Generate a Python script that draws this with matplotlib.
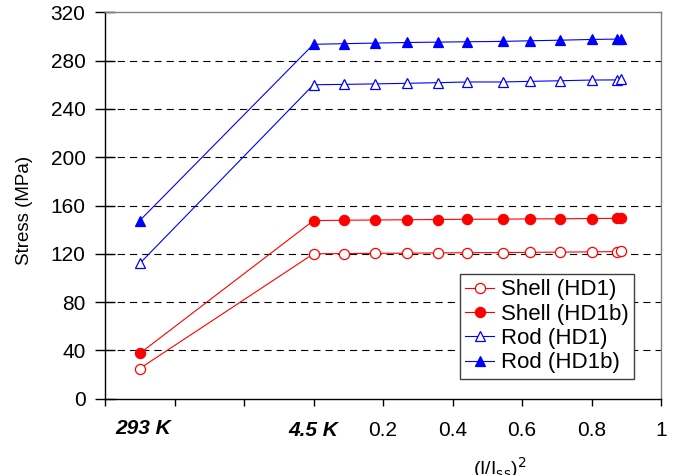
import matplotlib
matplotlib.use("Agg")
import matplotlib.pyplot as plt

plt.rcParams["font.family"] = ["Liberation Sans", "DejaVu Sans"]

# x positions: -0.5 stands for 293 K, 0 for 4.5 K, then (I/Iss)^2 values
x_vals = [-0.5, 0.0, 0.087, 0.176, 0.27, 0.357, 0.443, 0.544, 0.622, 0.708, 0.80, 0.872, 0.886]

shell_hd1 = [25, 120, 120.2, 120.4, 120.5, 120.7, 120.9, 121.0, 121.2, 121.4, 121.6, 121.8, 122.0]
shell_hd1b = [37.5, 147.5, 147.8, 148.0, 148.2, 148.4, 148.6, 148.7, 148.9, 149.0, 149.2, 149.4, 149.5]
rod_hd1 = [112, 260, 260.3, 260.7, 261.2, 261.7, 262.3, 262.3, 262.8, 263.3, 263.9, 264.0, 264.5]
rod_hd1b = [147.5, 293.5, 294.0, 294.5, 295.0, 295.3, 295.6, 295.9, 296.4, 296.9, 297.5, 297.8, 297.9]

y_ticks = [0, 40, 80, 120, 160, 200, 240, 280, 320]
x_ticks = [-0.6, -0.4, -0.2, 0.0, 0.2, 0.4, 0.6, 0.8, 1.0]
x_labels = ["", "", "", "4.5 K", "0.2", "0.4", "0.6", "0.8", "1"]

fig = plt.figure(figsize=(6.85, 4.75), dpi=100)
ax = fig.add_axes([105 / 685, 1 - 398.7 / 475, 556 / 685, 386.4 / 475])

# dashed grid lines between the top and bottom borders
for yv in y_ticks[1:-1]:
    ax.axhline(yv, color="black", lw=0.8, ls=(0, (6.5, 4.5)), zorder=1)

ms = 7.3
ax.plot(x_vals, shell_hd1, color="red", lw=0.8, marker="o", ms=ms,
        mfc="white", mec="red", mew=0.9, label="Shell (HD1)", zorder=3)
ax.plot(x_vals, shell_hd1b, color="red", lw=0.8, marker="o", ms=ms,
        mfc="red", mec="red", mew=0.9, label="Shell (HD1b)", zorder=3)
ax.plot(x_vals, rod_hd1, color="blue", lw=0.8, marker="^", ms=ms,
        mfc="white", mec="blue", mew=0.9, label="Rod (HD1)", zorder=3)
ax.plot(x_vals, rod_hd1b, color="blue", lw=0.8, marker="^", ms=ms,
        mfc="blue", mec="blue", mew=0.9, label="Rod (HD1b)", zorder=3)

ax.set_xlim(-0.6, 1.0)
ax.set_ylim(0, 320)
ax.set_yticks(y_ticks)
ax.set_xticks(x_ticks)
ax.set_xticklabels(x_labels)
ax.tick_params(axis="y", direction="inout", length=14, width=1, labelsize=15, pad=7)
ax.tick_params(axis="x", direction="out", length=5, width=1, labelsize=15, pad=11)

lbl = ax.get_xticklabels()[3]
lbl.set_fontweight("bold")
lbl.set_fontstyle("italic")
ax.text(-0.49, -0.078, "293 K", transform=ax.get_xaxis_transform(),
        ha="center", va="center", fontsize=15, fontweight="bold", fontstyle="italic")

for side in ["top", "right"]:
    ax.spines[side].set_color("#808080")
    ax.spines[side].set_linewidth(1)
for side in ["left", "bottom"]:
    ax.spines[side].set_color("black")
    ax.spines[side].set_linewidth(1)

ax.set_ylabel("Stress (MPa)", fontsize=13.5)
ax.yaxis.set_label_coords(-0.13, 0.488)
fig.text(500 / 685, 1 - 468 / 475, r"(I/I$_{\rm ss}$)$^2$", ha="center", va="center", fontsize=14)

leg = ax.legend(loc="lower right", bbox_to_anchor=(634 / 685, 1 - 379 / 475),
                bbox_transform=fig.transFigure, fontsize=16, frameon=True,
                fancybox=False, framealpha=1, edgecolor="#404040",
                handlelength=1.3, handletextpad=0.3, labelspacing=0.15,
                borderpad=0.25, borderaxespad=0)
leg.get_frame().set_linewidth(1)

fig.savefig("out.png", dpi=100)
